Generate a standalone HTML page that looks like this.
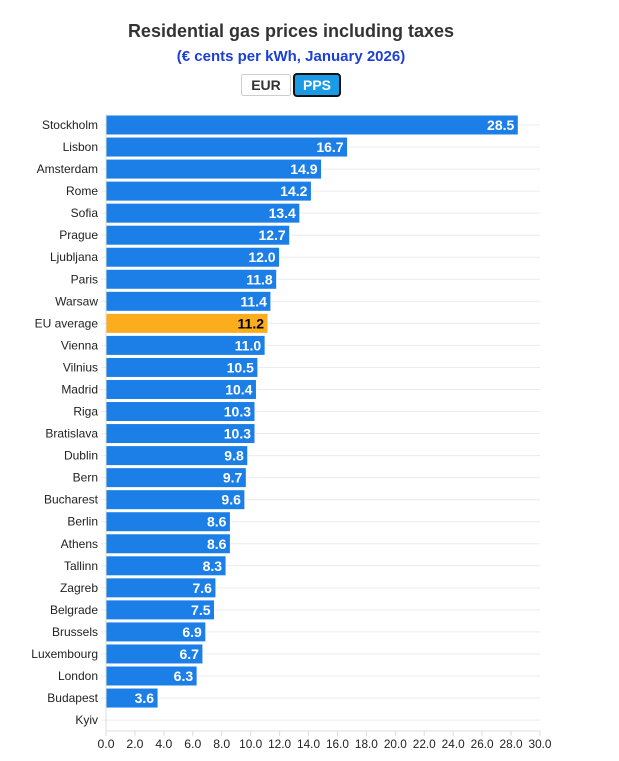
<!DOCTYPE html>
<html><head><meta charset="utf-8"><style>
body{margin:0;background:#fff;width:619px;height:756px;overflow:hidden;font-family:"Liberation Sans",sans-serif}
</style></head><body>
<svg width="619" height="756" xmlns="http://www.w3.org/2000/svg" font-family="Liberation Sans, DejaVu Sans, sans-serif">
<text x="291" y="37" text-anchor="middle" font-size="18" font-weight="bold" fill="#333">Residential gas prices including taxes</text>
<text x="291" y="61" text-anchor="middle" font-size="15" font-weight="bold" fill="#1c3fd6">(€ cents per kWh, January 2026)</text>
<rect x="241.5" y="74.5" width="49" height="21" rx="2" fill="#fff" stroke="#ccc"/>
<text x="266" y="90" text-anchor="middle" font-size="14" font-weight="bold" fill="#333">EUR</text>
<rect x="294" y="74" width="46" height="22" rx="3" fill="#1a9be6" stroke="#111" stroke-width="2"/>
<text x="317" y="90" text-anchor="middle" font-size="14" font-weight="bold" fill="#fff">PPS</text>
<g id="chart"></g>
</svg>
<script>
var d=[["Stockholm",28.5],["Lisbon",16.7],["Amsterdam",14.9],["Rome",14.2],["Sofia",13.4],["Prague",12.7],["Ljubljana",12.0],["Paris",11.8],["Warsaw",11.4],["EU average",11.2],["Vienna",11.0],["Vilnius",10.5],["Madrid",10.4],["Riga",10.3],["Bratislava",10.3],["Dublin",9.8],["Bern",9.7],["Bucharest",9.6],["Berlin",8.6],["Athens",8.6],["Tallinn",8.3],["Zagreb",7.6],["Belgrade",7.5],["Brussels",6.9],["Luxembourg",6.7],["London",6.3],["Budapest",3.6],["Kyiv",null]];
var x0=106,x1=540,sc=(x1-x0)/30,y0=125,st=22.04,s="";
for(var i=0;i<d.length;i++){var y=y0+i*st;
s+='<line x1="'+(x0-5)+'" x2="'+x1+'" y1="'+y+'" y2="'+y+'" stroke="#ececec"/>';
s+='<text x="98" y="'+(y+4)+'" text-anchor="end" font-size="12" fill="#222">'+d[i][0]+'</text>';}
for(var i=0;i<d.length;i++){if(d[i][1]==null)continue;var y=y0+i*st,w=d[i][1]*sc,eu=d[i][0]=="EU average";
s+='<rect x="'+x0+'" y="'+(y-10)+'" width="'+w+'" height="20" fill="'+(eu?"#fbad1e":"#1c7fe8")+'" stroke="#fff" stroke-width="1"/>';
s+='<text x="'+(x0+w-4)+'" y="'+(y+5)+'" text-anchor="end" font-size="14" font-weight="bold" fill="'+(eu?"#000":"#fff")+'">'+d[i][1].toFixed(1)+'</text>';}
s+='<line x1="'+x0+'" x2="'+x0+'" y1="114" y2="731" stroke="#ddd"/>';
s+='<line x1="'+x0+'" x2="'+x1+'" y1="731" y2="731" stroke="#ddd"/>';
for(var t=0;t<=30;t+=2){var x=x0+t*sc;s+='<line x1="'+x+'" x2="'+x+'" y1="731" y2="736" stroke="#ddd"/><text x="'+x+'" y="748" text-anchor="middle" font-size="11.5" fill="#222" textLength="'+(t<10?17:23)+'" lengthAdjust="spacingAndGlyphs">'+t.toFixed(1)+'</text>';}
document.getElementById("chart").innerHTML=s;
</script>
</body></html>
